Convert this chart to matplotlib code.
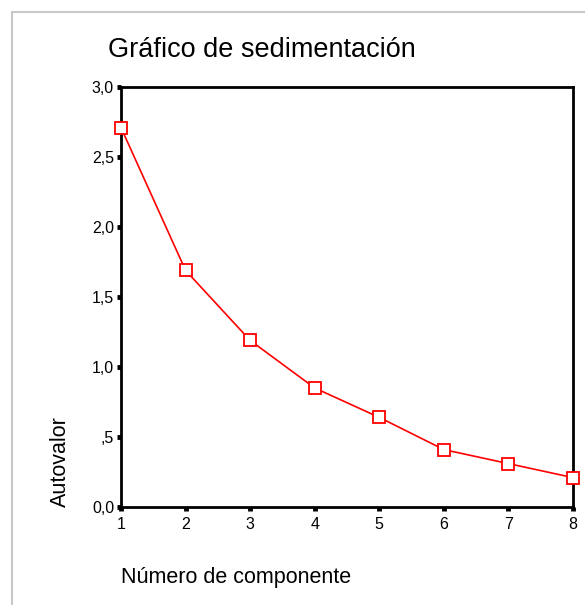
import matplotlib
matplotlib.use("Agg")
import matplotlib.pyplot as plt
from matplotlib.lines import Line2D

components = [1, 2, 3, 4, 5, 6, 7, 8]
eigenvalues = [2.71, 1.69, 1.19, 0.85, 0.64, 0.41, 0.31, 0.21]
y_ticks = [0.0, 0.5, 1.0, 1.5, 2.0, 2.5, 3.0]
y_tick_labels = ["0,0", ",5", "1,0", "1,5", "2,0", "2,5", "3,0"]

plt.rcParams['font.family'] = ['Liberation Sans', 'DejaVu Sans']

W, H = 585, 605
fig = plt.figure(figsize=(W / 100, H / 100), dpi=100)

# outer gray frame lines (top and left)
fig.add_artist(Line2D([11.5 / W, 1], [1 - 11.5 / H, 1 - 11.5 / H], color='#c8c8c8', lw=1.5, transform=fig.transFigure))
fig.add_artist(Line2D([11.5 / W, 11.5 / W], [0, 1 - 11.5 / H], color='#c8c8c8', lw=1.5, transform=fig.transFigure))

left, right, top, bottom = 121, 573, 87, 507
ax = fig.add_axes([left / W, 1 - bottom / H, (right - left) / W, (bottom - top) / H])

ax.plot(components, eigenvalues, color='#ff0000', lw=1.2, marker='s', markersize=8,
        markerfacecolor='white', markeredgecolor='#ff0000', markeredgewidth=1.3, clip_on=False, zorder=5)

ax.set_xlim(1, 8)
ax.set_ylim(0, 3.0)
ax.set_xticks(components)
ax.set_xticklabels([str(c) for c in components])
ax.set_yticks(y_ticks)
ax.set_yticklabels(y_tick_labels)
for s in ax.spines.values():
    s.set_linewidth(2)
    s.set_color('black')
ax.tick_params(direction='out', length=3, width=3.5, labelsize=11.5, colors='black')
ax.tick_params(axis='x', pad=4)
ax.tick_params(axis='y', pad=2)

fig.text(108 / W, 1 - 50 / H, "Gráfico de sedimentación", fontsize=19.5, va='center', ha='left')
fig.text(60 / W, 1 - 507 / H, "Autovalor", fontsize=15.5, rotation=90, va='bottom', ha='center')
fig.text(121 / W, 1 - 577 / H, "Número de componente", fontsize=15.5, va='center', ha='left')

fig.savefig("out.png", dpi=100)
